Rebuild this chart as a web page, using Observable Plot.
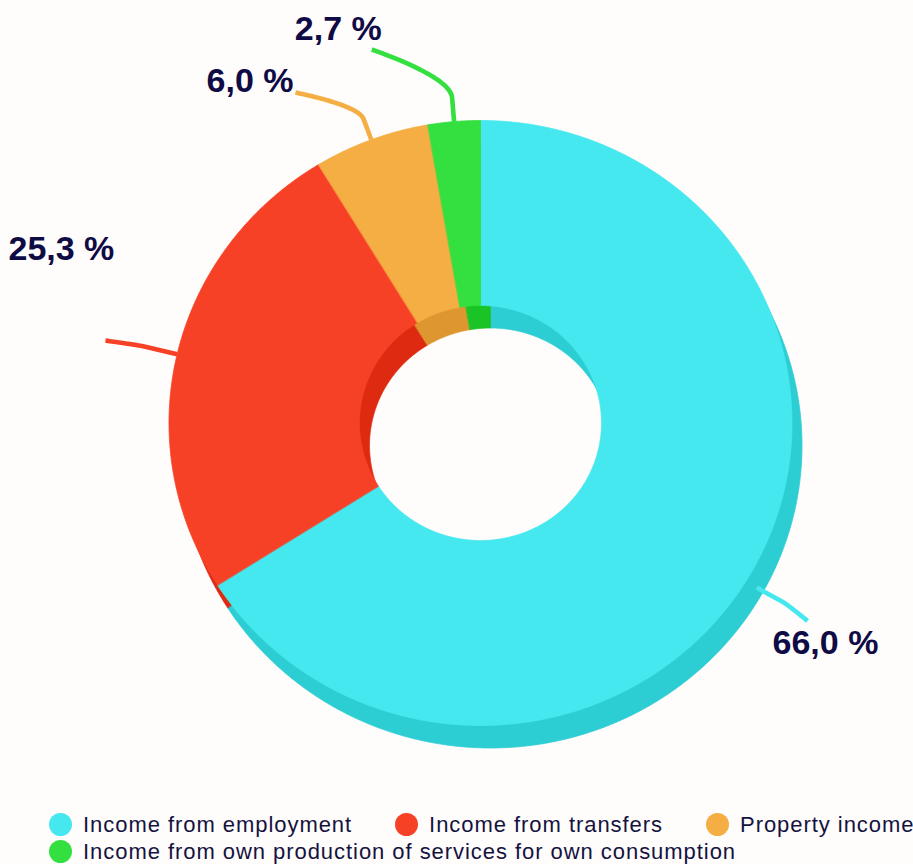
<!DOCTYPE html>
<html><head><meta charset="utf-8">
<script src="https://cdn.jsdelivr.net/npm/d3@7"></script>
<script src="https://cdn.jsdelivr.net/npm/@observablehq/plot@0.6"></script>
<style>
html,body{margin:0;padding:0;background:#fffcfc;}
#chart svg{display:block;background:transparent}
.legend{font-family:"Liberation Sans",Arial,sans-serif;font-size:22px;color:#14133f;letter-spacing:0.95px;padding-left:49px;padding-top:1px;}
.row{display:flex;height:27px;align-items:center;white-space:nowrap}
.item{display:flex;align-items:center;margin-right:43px}
.sw{width:23px;height:23px;border-radius:50%;margin-right:11px;flex:none}
</style></head><body>
<div id="chart"></div><div class="legend" id="legend"></div>
<script>
// ---- data ----
const categories = ["Income from employment", "Income from transfers", "Property income", "Income from own production of services for own consumption"];
const shares = [66.0, 25.3, 6.0, 2.7];
const valueLabels = ["66,0 %", "25,3 %", "6,0 %", "2,7 %"];
const colors = ["#45e8ee", "#f74127", "#f4ae44", "#33e03f"];
const shadeColors = ["#2dcdd4", "#de2a10", "#de9730", "#1ac427"];

// ---- layout ----
const W = 913, H = 810;
const cx = 480, cy = 422.5, rxO = 311.5, ryO = 302.5, rxI = 121, ryI = 117.5;
const depth = [10, 22.5];
// leader: radial length, curve control length, bend vector (end - elbow); label offset from leader end (baseline)
const leaderLayout = [
  {radial: 30, ctrl: 5,  bend: [24.6, 18.9],  label: [-35, 33],  anchor: "start"},
  {radial: 35, ctrl: 5,  bend: [-37.6, -5.7], label: [-97, -81], anchor: "start"},
  {radial: 22, ctrl: 14, bend: [-68.1, -26.6], label: [-2, 0],   anchor: "end"},
  {radial: 24, ctrl: 20, bend: [-80.3, -48.2], label: [10, -9],  anchor: "end"}
];
const legendRows = [[0, 1, 2], [3]];

// ---- geometry from data ----
const total = d3.sum(shares);
let acc = 0;
const slices = shares.map((v, i) => {
  const a0 = acc / total * 2 * Math.PI; acc += v;
  const a1 = acc / total * 2 * Math.PI;
  return {i, a0, a1, mid: (a0 + a1) / 2};
});
const ell = (a, rx, ry, ox = 0, oy = 0) => [cx + ox + rx * Math.sin(a), cy + oy - ry * Math.cos(a)];

function ring(s, ox, oy) {
  const n = Math.max(3, Math.ceil((s.a1 - s.a0) / 0.005));
  const pts = [];
  for (let k = 0; k <= n; k++) { const a = s.a0 + (s.a1 - s.a0) * k / n; const [x, y] = ell(a, rxO, ryO, ox, oy); pts.push({x, y}); }
  for (let k = n; k >= 0; k--) { const a = s.a0 + (s.a1 - s.a0) * k / n; const [x, y] = ell(a, rxI, ryI, ox, oy); pts.push({x, y}); }
  return pts;
}

const leaders = [], labelPts = [];
slices.forEach(s => {
  const L = leaderLayout[s.i];
  const F = ell(s.mid, rxO, ryO);
  const Bk = ell(s.mid, rxO * 0.975, ryO * 0.975, depth[0], depth[1]);
  const outside = ((Bk[0] - cx) / rxO) ** 2 + ((Bk[1] - cy) / ryO) ** 2 > 1;
  const A = outside ? Bk : F;
  const dir = [Math.sin(s.mid), -Math.cos(s.mid)];
  const B = [A[0] + dir[0] * L.radial, A[1] + dir[1] * L.radial];
  const K = [B[0] + dir[0] * L.ctrl, B[1] + dir[1] * L.ctrl];
  const C = [B[0] + L.bend[0], B[1] + L.bend[1]];
  leaders.push({key: s.i, x: A[0], y: A[1], color: colors[s.i]});
  for (let k = 0; k <= 30; k++) {
    const t = k / 30, u = 1 - t;
    leaders.push({key: s.i, x: u*u*B[0] + 2*u*t*K[0] + t*t*C[0], y: u*u*B[1] + 2*u*t*K[1] + t*t*C[1], color: colors[s.i]});
  }
  labelPts.push({x: C[0] + L.label[0], y: C[1] + L.label[1], text: valueLabels[s.i], anchor: L.anchor});
});

const marks = [];
slices.forEach(s => marks.push(Plot.line(ring(s, depth[0], depth[1]), {x: "x", y: "y", curve: "linear-closed", fill: shadeColors[s.i], stroke: shadeColors[s.i], strokeWidth: 0.8})));
slices.forEach(s => marks.push(Plot.line(ring(s, 0, 0), {x: "x", y: "y", curve: "linear-closed", fill: colors[s.i], stroke: colors[s.i], strokeWidth: 0.8})));
marks.push(Plot.line(leaders, {x: "x", y: "y", z: "key", stroke: "color", strokeWidth: 4.6, strokeLinecap: "butt", strokeLinejoin: "round"}));
["start", "end"].forEach(an => marks.push(Plot.text(labelPts.filter(d => d.anchor === an), {
  x: "x", y: "y", text: "text", textAnchor: an, lineAnchor: "bottom",
  fontSize: 34, fontWeight: "bold", fontFamily: "'Liberation Sans', Arial, sans-serif", fill: "#0e0b45"
})));

const chart = Plot.plot({
  width: W, height: H, margin: 0,
  x: {domain: [0, W], range: [0, W], axis: null},
  y: {domain: [0, H], range: [0, H], axis: null},
  color: {type: "identity"},
  style: {background: "transparent", overflow: "visible"},
  marks
});
document.getElementById("chart").appendChild(chart);

const leg = document.getElementById("legend");
legendRows.forEach(r => {
  const row = document.createElement("div"); row.className = "row";
  r.forEach(i => {
    const it = document.createElement("div"); it.className = "item";
    const sw = document.createElement("span"); sw.className = "sw"; sw.style.background = colors[i];
    const tx = document.createElement("span"); tx.textContent = categories[i];
    it.appendChild(sw); it.appendChild(tx); row.appendChild(it);
  });
  leg.appendChild(row);
});
</script>
</body></html>
